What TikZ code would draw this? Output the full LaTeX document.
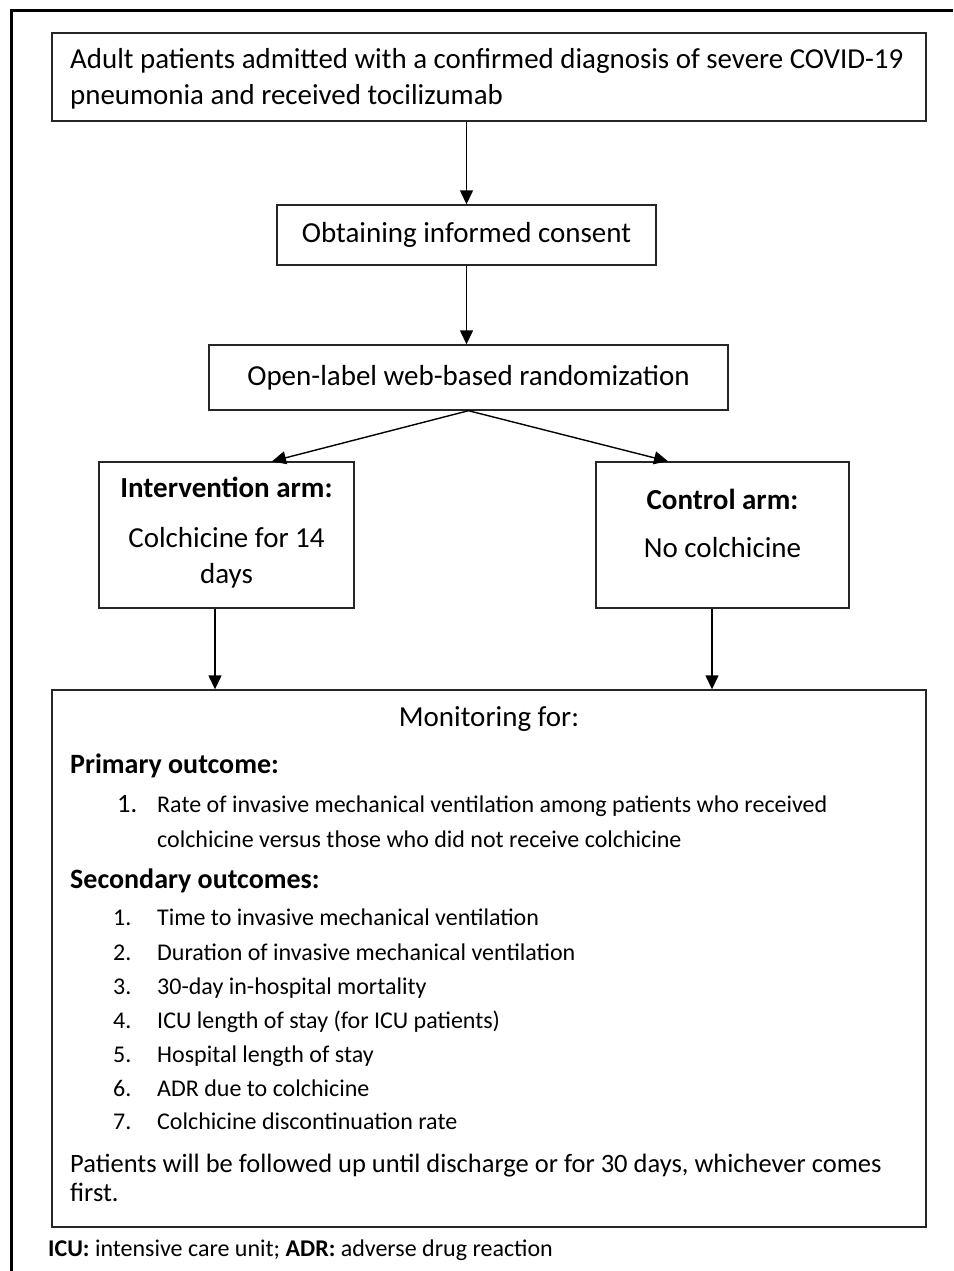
\documentclass[tikz,border=0pt]{standalone}
\usepackage{fontspec}
\setmainfont{Carlito}
\usetikzlibrary{arrows.meta}
\begin{document}
\begin{tikzpicture}[x=1pt,y=-1pt,
  box/.style={draw=black!85, line width=1.4pt, inner sep=0pt, align=center},
  arr/.style={-{Triangle[length=14pt,width=13pt]}, line width=1.4pt},
  lbl/.style={anchor=mid west, inner sep=0pt},
  ctr/.style={anchor=mid, inner sep=0pt},
  top/.style={font=\fontsize{28.9}{36}\selectfont},
  big/.style={font=\fontsize{29}{36}\selectfont},
  head/.style={font=\fontsize{28}{29}\selectfont},
  mid/.style={font=\fontsize{26.5}{29}\selectfont},
  sml/.style={font=\fontsize{24}{24}\selectfont},
]
\useasboundingbox (0,0) rectangle (953,1271);
\draw[line width=3pt] (11,1271) -- (11,11) -- (953,11);

\node[box, minimum width=874pt, minimum height=88pt] (b1) at (489,77) {};
\node[lbl, top] (b1a) at (70,66) {Adult patients admitted with a confirmed diagnosis of severe COVID-19};
\node[lbl, top] (b1b) at (70,102) {pneumonia and received tocilizumab};
\node[box, big, minimum width=379pt, minimum height=60pt] (b2) at (466.5,235) {Obtaining informed consent};
\node[box, big, minimum width=519pt, minimum height=65pt] (b3) at (468.5,377.5) {Open-label web-based randomization};

\node[box, minimum width=255pt, minimum height=146pt] (bl) at (226.5,535) {};
\node[big, ctr] (blh) at (226.5,495) {\bfseries Intervention arm:};
\node[big, ctr] (blt) at (226.5,545) {Colchicine for 14};
\node[big, ctr] (blu) at (226.5,581) {days};

\node[box, minimum width=253pt, minimum height=146pt] (br) at (722.5,535) {};
\node[big, ctr] (brh) at (722.5,507) {\bfseries Control arm:};
\node[big, ctr] (brt) at (722.5,555) {No colchicine};

\node[box, minimum width=874pt, minimum height=537pt] (mon) at (489,958.5) {};

\draw[arr] (b1.south -| b2.north) -- (b2.north);
\draw[arr] (b2.south) -- (b2.south |- b3.north);
\draw[arr] (b3.south) -- ([xshift=45.5pt]bl.north);
\draw[arr] (b3.south) -- ([xshift=-54.5pt]br.north);
\draw[arr] ([xshift=-11.5pt]bl.south) -- ([xshift=-11.5pt]bl.south |- mon.north);
\draw[arr] ([xshift=-10.5pt]br.south) -- ([xshift=-10.5pt]br.south |- mon.north);

\node[big, ctr] (mf) at (489,724) {Monitoring for:};
\node[lbl, head] (po) at (70,771) {\bfseries Primary outcome:};
\node[lbl, mid] (p1n) at (117,810) {1.};
\node[lbl, sml] (p1a) at (157,810) {Rate of invasive mechanical ventilation among patients who received};
\node[lbl, sml] (p1b) at (157,845) {colchicine versus those who did not receive colchicine};
\node[lbl, head] (so) at (70,886) {\bfseries Secondary outcomes:};
\foreach \n/\yy/\t in {1/923/Time to invasive mechanical ventilation,
                       2/958/Duration of invasive mechanical ventilation,
                       3/992/30-day in-hospital mortality,
                       4/1026/ICU length of stay (for ICU patients),
                       5/1060/Hospital length of stay,
                       6/1094/ADR due to colchicine,
                       7/1127/Colchicine discontinuation rate}{
  \node[lbl, sml] (s\n n) at (113,\yy) {\n.};
  \node[lbl, sml] (s\n t) at (157,\yy) {\t};
}
\node[lbl, mid] (fa) at (70,1170) {Patients will be followed up until discharge or for 30 days, whichever comes};
\node[lbl, mid] (fb) at (70,1199) {first.};
\node[lbl, font=\fontsize{24}{24}\selectfont] (fn) at (48,1254) {\textbf{ICU:} intensive care unit; \textbf{ADR:} adverse drug reaction};
\end{tikzpicture}
\end{document}
